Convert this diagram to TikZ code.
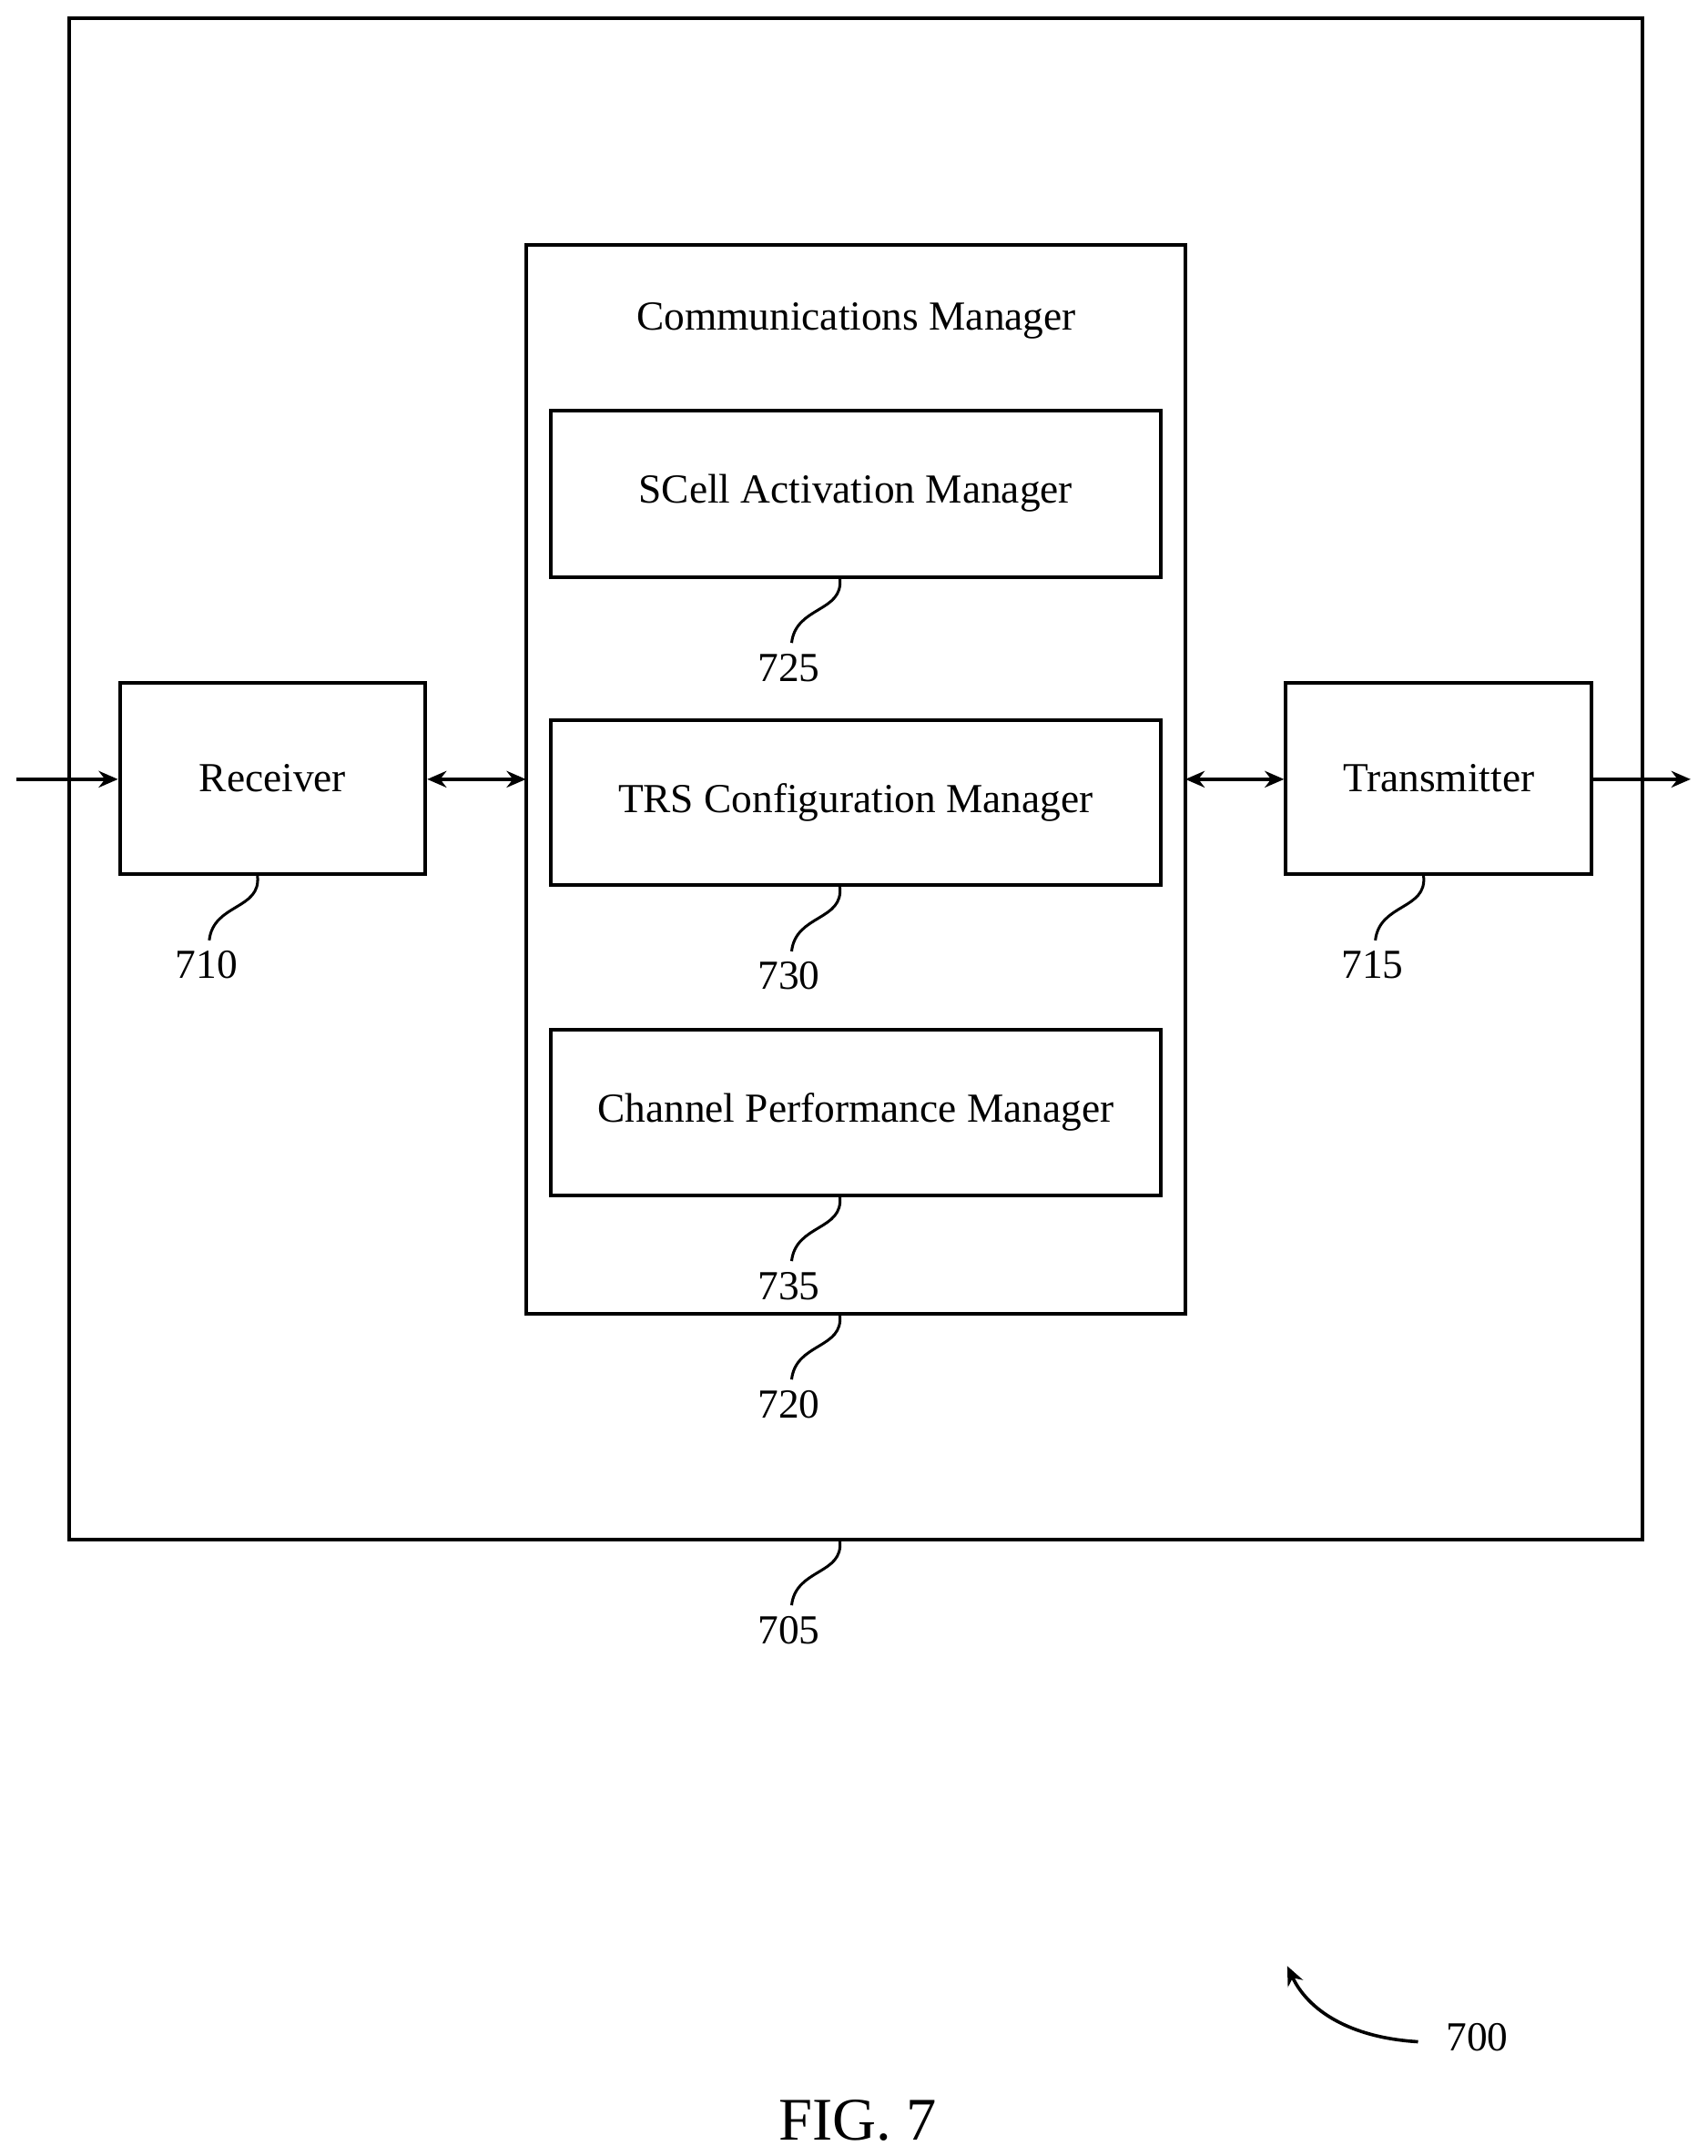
\documentclass[tikz,border=0pt]{standalone}
\usepackage{fontspec}
\setmainfont{Liberation Serif}
\usetikzlibrary{arrows.meta}
\begin{document}
\begin{tikzpicture}[x=0.5pt,y=-0.5pt,
  box/.style={draw,line width=1.3pt},
  lbl/.style={font=\fontsize{15}{18}\selectfont},
  con/.style={line width=1.2pt,-{Stealth[length=7pt,width=6pt]}},
  dcon/.style={line width=1.2pt,{Stealth[length=7pt,width=6pt]}-{Stealth[length=7pt,width=6pt]}},
  sq/.style={line width=1pt}]
\useasboundingbox (0,0) rectangle (1240,1566);
\draw[box] (50,13) rectangle (1193,1118);
\draw[box] (382,178) rectangle (861,954);
\node[lbl] (cmt) at (622,233) {Communications Manager};
\node[box,lbl,minimum width=221.5pt,minimum height=60.5pt] (s) at (621.5,358.5) {SCell Activation Manager};
\node[box,lbl,minimum width=221.5pt,minimum height=60pt] (t) at (621.5,583) {TRS Configuration Manager};
\node[box,lbl,minimum width=221.5pt,minimum height=60pt] (c) at (621.5,808) {Channel Performance Manager};
\node[box,lbl,minimum width=111pt,minimum height=69.5pt] (r) at (198,565.5) {Receiver};
\node[box,lbl,minimum width=111pt,minimum height=69.5pt] (x) at (1045,565.5) {Transmitter};
\coordinate (in) at (12,566);
\coordinate (out) at (1228,566);
\coordinate (cml) at (382,566);
\coordinate (cmr) at (861,566);
\draw[con] (in) -- (r.west|-in);
\draw[dcon] (r.east|-in) -- (cml);
\draw[dcon] (cmr) -- (x.west|-in);
\draw[con] (x.east|-out) -- (out);
\foreach \nx/\ny/\t in {573/485/725,573/709/730,573/934/735,573/1020/720,573/1184/705,150/701/710,997/701/715}{
  \node[lbl] at (\nx,\ny) {\t};
  \draw[sq] (\nx+37,\ny-65) .. controls (\nx+40,\ny-40) and (\nx+5,\ny-45) .. (\nx+2,\ny-18);
}
\node[lbl] (n700) at (1073,1480) {700};
\draw[line width=1.2pt,-{Stealth[length=7pt,width=6pt]}] (1030,1483) .. controls (980,1480) and (950,1460) .. (935,1428);
\node[font=\fontsize{22}{26}\selectfont] (fig) at (623,1540) {FIG. 7};
\end{tikzpicture}
\end{document}
